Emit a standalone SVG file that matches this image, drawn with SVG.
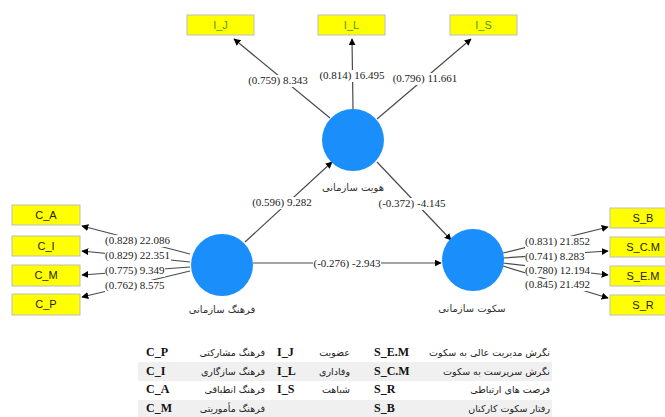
<svg xmlns="http://www.w3.org/2000/svg" width="665" height="417" viewBox="0 0 665 417">
<style>
.box rect{fill:#ffff00;stroke:#bdbdbd;stroke-width:1}
.box text{font-family:"Liberation Sans",Arial,sans-serif;font-size:11px;fill:#222;text-anchor:middle}
.box.ind text{fill:#4f9a16}
.lv circle{fill:#1a8ffb}
.lv text{font-family:"DejaVu Sans",sans-serif;font-size:10px;fill:#333;text-anchor:middle}
.conn line{stroke:#4a4a4a;stroke-width:1.2;marker-end:url(#ah)}
.lbg rect{fill:#fff}
.lbl{font-family:"Liberation Serif","Times New Roman",serif;font-size:11px;fill:#222}
.tl{font-family:"Liberation Serif","Times New Roman",serif;font-size:12px;font-weight:bold;fill:#111}
.tf{font-family:"DejaVu Sans",sans-serif;font-size:9.5px;fill:#222;text-anchor:end}
</style>
<defs>
<marker id="ah" viewBox="0 0 10 10" refX="9" refY="5" markerWidth="7" markerHeight="7" markerUnits="userSpaceOnUse" orient="auto">
<path d="M0,0 L10,5 L0,10 z" fill="#000"/>
</marker>
</defs>
<rect width="665" height="417" fill="#fff"/>

<g id="connectors" class="conn">
<line x1="330" y1="118" x2="234" y2="39"/>
<line x1="353" y1="109" x2="352" y2="39"/>
<line x1="377" y1="119" x2="471" y2="39"/>
<line x1="245" y1="242" x2="332" y2="162"/>
<line x1="377" y1="162" x2="451" y2="240"/>
<line x1="253" y1="263" x2="441" y2="263"/>
<line x1="190" y1="254" x2="82" y2="226"/>
<line x1="190" y1="262" x2="82" y2="251"/>
<line x1="190" y1="267" x2="82" y2="275"/>
<line x1="190" y1="271" x2="82" y2="297"/>
<line x1="503" y1="253" x2="608" y2="227"/>
<line x1="503" y1="258" x2="608" y2="251"/>
<line x1="503" y1="263" x2="608" y2="275"/>
<line x1="503" y1="266" x2="608" y2="298"/>
</g>

<g id="connector-labels">
<g class="lbg">
<rect x="248" y="75" width="60" height="12"/>
<rect x="319" y="70" width="66" height="12"/>
<rect x="392" y="73" width="66" height="12"/>
<rect x="252" y="197" width="60" height="12"/>
<rect x="378" y="198" width="68" height="12"/>
<rect x="313" y="258" width="68" height="12"/>
<rect x="105" y="235" width="66" height="12"/>
<rect x="105" y="250" width="66" height="12"/>
<rect x="105" y="265" width="60" height="12"/>
<rect x="105" y="280" width="60" height="12"/>
<rect x="525" y="236" width="66" height="12"/>
<rect x="525" y="251" width="60" height="12"/>
<rect x="525" y="265" width="66" height="12"/>
<rect x="525" y="279" width="66" height="12"/>
</g>
<text class="lbl" x="278" y="84" text-anchor="middle">(0.759) 8.343</text>
<text class="lbl" x="352" y="79" text-anchor="middle">(0.814) 16.495</text>
<text class="lbl" x="425" y="82" text-anchor="middle">(0.796) 11.661</text>
<text class="lbl" x="282" y="206" text-anchor="middle">(0.596) 9.282</text>
<text class="lbl" x="412" y="207" text-anchor="middle">(-0.372) -4.145</text>
<text class="lbl" x="347" y="267" text-anchor="middle">(-0.276) -2.943</text>
<text class="lbl" x="105" y="244">(0.828) 22.086</text>
<text class="lbl" x="105" y="259">(0.829) 22.351</text>
<text class="lbl" x="105" y="274">(0.775) 9.349</text>
<text class="lbl" x="105" y="289">(0.762) 8.575</text>
<text class="lbl" x="525" y="245">(0.831) 21.852</text>
<text class="lbl" x="525" y="260">(0.741) 8.283</text>
<text class="lbl" x="525" y="274">(0.780) 12.194</text>
<text class="lbl" x="525" y="288">(0.845) 21.492</text>
</g>

<g id="identity" class="lv"><circle cx="353" cy="140" r="31"/><text x="353" y="191">هویت سازمانی</text></g>
<g id="culture" class="lv"><circle cx="222" cy="265" r="31"/><text x="222" y="313">فرهنگ سازمانی</text></g>
<g id="silence" class="lv"><circle cx="473" cy="260" r="31"/><text x="472" y="312">سکوت سازمانی</text></g>

<g id="I_J" class="box ind"><rect x="187" y="15" width="67" height="20"/><text x="220.5" y="29">I_J</text></g>
<g id="I_L" class="box ind"><rect x="318" y="15" width="67" height="20"/><text x="351.5" y="29">I_L</text></g>
<g id="I_S" class="box ind"><rect x="450" y="15" width="67" height="20"/><text x="483.5" y="29">I_S</text></g>

<g id="C_A" class="box"><rect x="12" y="205" width="68" height="20"/><text x="46" y="219">C_A</text></g>
<g id="C_I" class="box"><rect x="12" y="236" width="68" height="20"/><text x="46" y="250">C_I</text></g>
<g id="C_M" class="box"><rect x="12" y="265" width="68" height="21"/><text x="46" y="279">C_M</text></g>
<g id="C_P" class="box"><rect x="12" y="294" width="68" height="21"/><text x="46" y="308">C_P</text></g>

<g id="S_B" class="box"><rect x="610" y="208" width="68" height="20"/><text x="643" y="222">S_B</text></g>
<g id="S_C.M" class="box"><rect x="610" y="237" width="68" height="20"/><text x="643" y="251">S_C.M</text></g>
<g id="S_E.M" class="box"><rect x="610" y="266" width="68" height="20"/><text x="643" y="280">S_E.M</text></g>
<g id="S_R" class="box"><rect x="610" y="295" width="68" height="20"/><text x="643" y="309">S_R</text></g>

<g id="legend-table">
<rect x="138" y="362" width="414" height="19" fill="#f0f0f0"/>
<rect x="138" y="400" width="414" height="19" fill="#f0f0f0"/>
<text class="tl" x="146" y="356">C_P</text>
<text class="tf" x="265" y="356">فرهنگ مشارکتی</text>
<text class="tl" x="277" y="356">I_J</text>
<text class="tf" x="350" y="356">عضویت</text>
<text class="tl" x="374" y="356">S_E.M</text>
<text class="tf" x="550" y="356">نگرش مدیریت عالی به سکوت</text>
<text class="tl" x="146" y="375">C_I</text>
<text class="tf" x="265" y="375">فرهنگ سازگاری</text>
<text class="tl" x="277" y="375">I_L</text>
<text class="tf" x="350" y="375">وفاداری</text>
<text class="tl" x="374" y="375">S_C.M</text>
<text class="tf" x="550" y="375">نگرش سرپرست به سکوت</text>
<text class="tl" x="146" y="393">C_A</text>
<text class="tf" x="265" y="393">فرهنگ انطباقی</text>
<text class="tl" x="277" y="393">I_S</text>
<text class="tf" x="350" y="393">شباهت</text>
<text class="tl" x="374" y="393">S_R</text>
<text class="tf" x="550" y="393">فرصت های ارتباطی</text>
<text class="tl" x="146" y="412">C_M</text>
<text class="tf" x="265" y="412">فرهنگ مأموریتی</text>
<text class="tl" x="374" y="412">S_B</text>
<text class="tf" x="550" y="412">رفتار سکوت کارکنان</text>
</g>
</svg>
